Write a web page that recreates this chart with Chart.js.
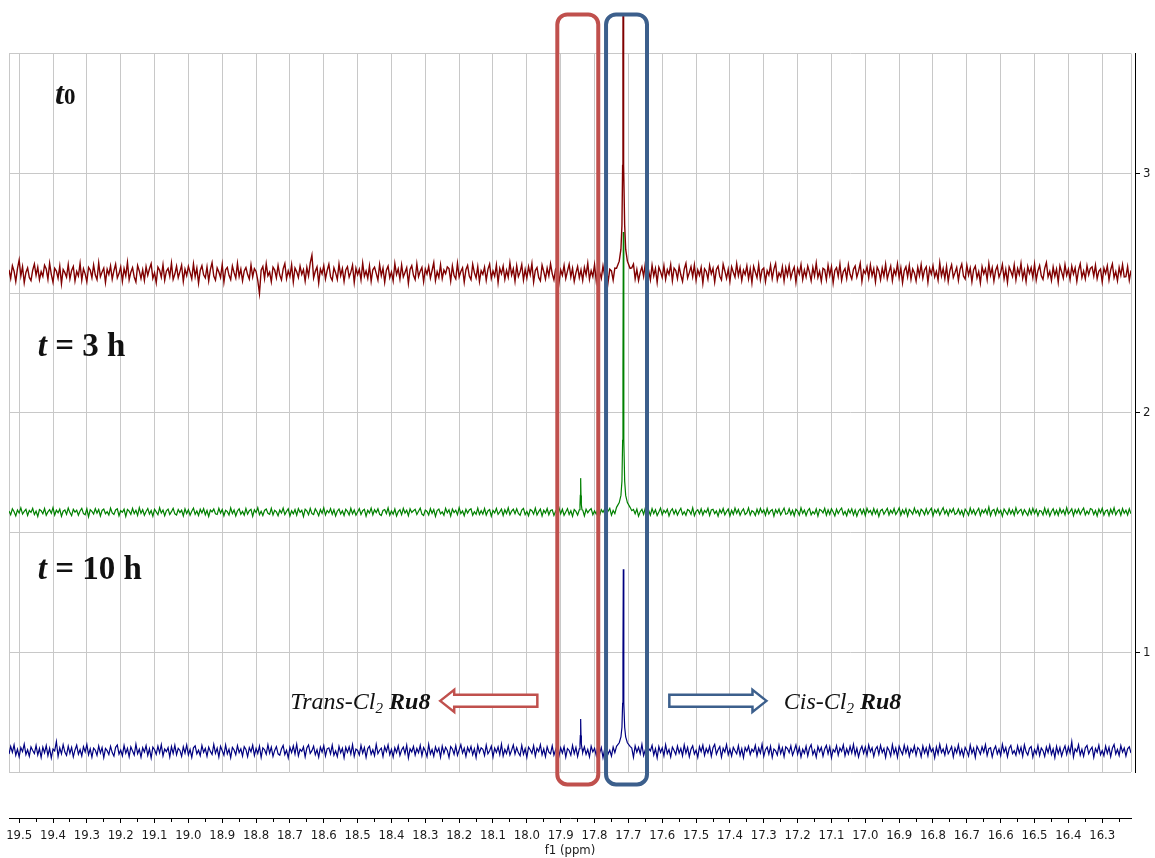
<!DOCTYPE html>
<html>
<head>
<meta charset="utf-8">
<title>Ru8 hydride region</title>
<script src="https://cdn.jsdelivr.net/npm/chart.js@4.4.1/dist/chart.umd.min.js"></script>
<style>
  html, body { margin: 0; padding: 0; background: #fff; }
  #wrap { width: 1155px; height: 858px; }
</style>
</head>
<body>
<div id="wrap"><canvas id="nmr" width="1155" height="858"></canvas></div>
<script>
// f1 axis, drawn from high to low ppm
const xTickLabels = ['19.5', '19.4', '19.3', '19.2', '19.1', '19.0', '18.9', '18.8', '18.7', '18.6', '18.5',
  '18.4', '18.3', '18.2', '18.1', '18.0', '17.9', '17.8', '17.7', '17.6', '17.5', '17.4', '17.3', '17.2',
  '17.1', '17.0', '16.9', '16.8', '16.7', '16.6', '16.5', '16.4', '16.3'];
const yTickLabels = ['1', '2', '3'];
const ppmMax = 19.53;
const ppmMin = 16.215;

// baseline of each stacked spectrum
const baseT0 = 2.583;
const base3h = 1.585;
const base10h = 0.587;

// baseline noise, evenly spaced from 19.53 to 16.215 ppm, in thousandths
const noiseT0 = [
  14, -22, 31, 8, -35, 19, 55, -12, 27, -40, 3, 22, -18, -31, 12, 38, -9, 25, -27, 6,
  -14, 33, 17, -26, 41, -5, -38, 20, 9, -21, 29, -44, 15, 2, -17, 36, -24, 11, 28, -33,
  7, -12, 40, -29, 18, -3, -36, 24, 13, -19, 34, -8, -27, 43, -15, 5, 21, -39, 16, -6,
  30, -25, 10, 37, -20, -2, 26, -34, 19, -11, 45, -28, 4, 23, -16, -37, 32, 9, -23, 14,
  -31, 27, -9, 18, 39, -22, 1, -40, 25, 12, -17, 35, -30, 8, 20, -13, 42, -26, -4, 29,
  -19, 6, 33, -35, 16, -10, 28, 3, -24, 38, -15, 21, -42, 11, 31, -7, -20, 26, -33, 15,
  44, -12, -29, 22, 5, -18, 36, -38, 14, 24, -9, -27, 30, 2, -21, 41, -14, 17, -32, 9,
  23, -6, -25, 34, -16, 19, 7, -30, -85, 12, 28, -22, 39, -11, 4, -36, 25, 13, -19, 32,
  -8, -28, 18, 40, -23, 10, -14, 35, -37, 21, 6, -18, 29, -5, 15, -33, 24, -12, 43, 75,
  -20, 8, 26, -41, 17, -3, 31, -24, 11, 37, -15, -30, 22, 1, -26, 38, -10, 19, -35, 13,
  27, -17, 4, 33, -39, 20, -7, 16, -28, 42, -13, 9, -22, 30, -34, 14, 25, -1, -29, 36,
  -11, 21, -38, 12, 29, -19, 5, -32, 40, -6, 18, -25, 34, -16, 3, 23, -43, 15, 31, -9,
  -27, 39, -14, 8, 24, -36, 17, -4, 28, -21, 11, 44, -31, 6, -18, 35, -23, 13, -2, 26,
  19, -33, 30, -10, -24, 41, -16, 7, 22, -38, 14, 32, -12, -27, 37, 2, -20, 27, -35, 10,
  -5, 25, -30, 16, 38, -22, 9, -13, 34, -40, 20, -3, 29, -26, 12, -17, 43, -8, 18, -34,
  31, -14, 4, 36, -29, 15, -21, 27, -6, 40, -37, 11, 23, -18, -32, 33, 6, -25, 21, -11,
  39, -2, -28, 17, 26, -41, 13, -9, 32, -23, 8, 37, -16, 20, -35, 1, 28, -19, 14, -30,
  24, -7, 42, -26, 10, -15, 35, -33, 18, 5, -22, 30, -12, 27, -38, 16, 9, -29, 21, -4,
  -17, 34, -27, 12, 29, -36, 7, -10, 22, 38, -24, 15, -31, 3, 26, -14, 40, -21, 9, -28,
  33, -12, 19, -39, 25, 6, -18, 31, -26, 14, -5, 36, -32, 21, 11, -23, 28, -8, -35, 17,
  41, -20, 2, 27, -15, 34, -30, 13, -9, 24, -42, 18, 7, -25, 32, -3, 20, -37, 15, 29,
  -13, -28, 37, 9, -22, 16, -34, 26, 4, -17, 39, -11, 23, -31, 12, -6, 30, -24, 18, -40,
  28, 5, -19, 35, -27, 14, 21, -36, 10, -8, 33, -23, 17, 40, -29, 1, -15, 26, -33, 22,
  -10, 31, -21, 7, 25, -38, 19, -4, 36, -26, 13, -16, 29, 3, -32, 24, -12, 42, -18, 8,
  -34, 20, 15, -27, 33, -9, 27, -41, 11, 23, -14, 38, -30, 6, 19, -22, 35, -5, -25, 16,
  30, -17, 8, 41, -35, 12, -2, 26, -20, 34, -11, 18, -37, 25, 9, -28, 21, -13, 37, -24,
  4, 29, -31, 14, -7, 39, -19, 22, -40, 10, 27, -15, 32, -26, 17, 1, -33, 24, -10, 36,
  -21, 13, 26, -38, 20, -4, 31, -16, 7, -29, 43, -12, 19, -23, 28, -34, 11, 35, -18, 2,
  24, -30, 16, 38, -12, -25, 33, -8, 21, -36, 14, 29, -20, 6, -41, 27, -3, 18, -27, 40,
  -9, 22, -33, 11, 30, -17, 3, 36, -24, 15, -39, 26, 8, -14, 34, -28, 19, -6, 41, -22,
  12, -35, 28, -1, 23, -19, 37, -29, 10, 32, -11, -26, 20, 44, -16, 7, -31, 25, -13, 17,
  -38, 30, 5, -21, 35, -9, 16, -27, 29, -4, 22, -34, 13, 39, -18, 9, -24, 31, -7, 20,
  26, -12, 33, -23, 8, 17, -37, 21, -2, 30, -28, 14, 38, -19, 6, -32, 24, -9, 35, -16,
  -15, 27, -30, 11
];
const noise3h = [
  5, -11, 14, 2, -16, 9, -4, 18, -8, 3, 12, -14, 7, -1, 16, -10, 4, -18, 11, 6,
  -7, 15, -13, 1, 10, -5, 19, -12, 8, -3, 13, -17, 4, 9, -9, 17, -2, -15, 12, 0,
  8, -13, 5, 16, -6, -11, 14, -19, 10, 3, -8, 15, -4, 11, -16, 7, 13, -7, 2, -12,
  17, -3, -10, 9, 14, -15, 6, -1, 12, -18, 11, 4, -9, 16, -6, 8, -14, 19, -5, 10,
  -13, 3, 15, -8, 7, -17, 12, 1, -11, 18, -4, 9, -15, 6, 13, -10, 2, 16, -7, -12,
  11, -2, 8, -16, 14, -6, 10, -13, 4, 17, -9, 5, -14, 12, -3, 15, -11, 7, -18, 9,
  1, 13, -7, -10, 16, -4, 11, -15, 8, 2, -12, 18, -6, 9, -16, 5, 14, -9, 3, -13,
  15, -8, 6, 12, -17, 10, -2, 19, -11, 4, -14, 7, 13, -5, -9, 16, -12, 8, 1, -15,
  9, -4, 17, -10, 3, 14, -16, 6, -7, 11, -13, 15, -1, 8, -18, 12, 5, -11, 16, -6,
  -10, 14, 2, -15, 11, -5, 18, -12, 7, -3, 15, -9, 10, -16, 4, 13, -8, 6, -14, 12,
  3, -12, 16, -7, 9, -13, 1, 15, -10, 6, 12, -17, 8, -4, 17, -11, 10, -2, 14, -9,
  -14, 7, 11, -6, 18, -13, 5, -9, 13, -16, 2, 10, -11, 16, -4, 8, -15, 14, -1, 6,
  12, -10, 4, 17, -8, -14, 9, 3, -12, 15, -5, 11, -18, 7, 13, -7, 1, -13, 16, -3,
  10, -16, 13, -2, 8, -11, 19, -6, 5, -15, 12, -4, 9, 14, -13, 2, -9, 17, -10, 6,
  -8, 15, -12, 5, 11, -17, 7, -3, 16, -9, 1, 13, -14, 10, -6, 18, -11, 4, 12, -7,
  14, -5, -13, 9, 16, -10, 3, -15, 11, 6, -8, 17, -12, 2, 13, -16, 8, -4, 15, -11,
  7, 10, -14, 4, -9, 18, -7, 12, -13, 1, 15, -10, 6, -17, 11, 3, -12, 14, -5, 9,
  -16, 12, -3, 8, 15, -11, 5, -8, 17, -14, 10, -1, 13, -9, 4, 16, -13, 7, -6, 11,
  -10, 3, 14, -12, 9, -5, 16, -15, 6, 11, -7, 13, -17, 2, 12, -9, 18, -4, 7, -13,
  15, -6, 10, -14, 1, 17, -11, 8, -3, 12, -16, 5, 14, -8, 9, -12, 4, 16, -10, 2,
  -13, 11, 6, -9, 18, -15, 3, 10, -7, 14, -12, 7, -2, 16, -14, 9, 12, -6, 5, -17,
  10, -4, 15, -11, 2, 13, -16, 8, -9, 17, -5, 11, -13, 4, 14, -10, -3, 18, -12, 6,
  1, -14, 12, -7, 16, -2, 9, -13, 15, -8, 5, 11, -17, 10, -4, 13, -11, 3, 17, -9,
  -6, 14, -10, 8, -15, 12, 4, -12, 18, -5, 9, -14, 6, 15, -11, 2, -8, 13, -16, 11,
  7, -3, 16, -13, 10, -9, 14, 1, -16, 12, -6, 8, 17, -10, 3, -15, 11, -4, 14, -12,
  9, -17, 5, 13, -8, 11, -14, 16, -2, 7, -11, 15, -7, 10, -18, 6, 12, -9, 4, 16,
  -12, 8, -5, 15, -10, 2, 18, -13, 9, -6, 14, -16, 11, 3, -9, 17, -4, 7, -14, 12,
  4, -11, 14, -8, 6, 16, -15, 10, -3, 13, -12, 5, 19, -7, 8, -14, 11, -1, 15, -10,
  -5, 13, -9, 7, -16, 12, 2, -13, 17, -6, 10, -11, 4, 16, -14, 9, -3, 12, -8, 21,
  -15, 6, 11, -12, 15, -4, 8, -17, 13, 1, -10, 14, -7, 9, -13, 18, -6, 5, 12, -11,
  10, -2, -14, 13, -9, 16, -6, 11, -15, 7, 4, -12, 17, -8, 12, -16, 3, 14, -10, 8,
  -13, 15, -4, 9, -11, 19, -7, 2, 14, -15, 10, -5, 13, -9, 6, 17, -12, 4, -8, 15,
  11, -10, 7, -16, 13, -3, 16, -12, 5, 9, -14, 12, -6, 18, -11, 3, 10, -13, 15, -5,
  8, -12, 14, -7
];
const noise10h = [
  -12, 20, -5, 26, -17, 8, -23, 15, -2, 29, -14, 6, -21, 18, 3, -10, 24, -16, 11, -26,
  17, -7, 23, -19, 12, -28, 9, 1, 40, -22, 14, -11, 27, -4, -18, 21, -9, 16, -24, 5,
  25, -13, 7, -20, 19, -3, 28, -15, 10, -25, 13, 4, -17, 22, -8, 15, -27, 11, 2, -14,
  20, -6, -21, 16, 26, -12, 5, -19, 24, -9, 12, -23, 18, 1, -16, 29, -11, 8, -25, 14,
  -4, 23, -18, 10, -28, 17, 6, -13, 21, -7, 27, -20, 9, -2, 15, -24, 19, -10, 25, -15,
  12, 3, -22, 18, -8, 26, -16, 7, -26, 14, 22, -11, 4, -19, 24, -5, 11, -21, 17, -1,
  -14, 28, -9, 13, -24, 20, 2, -17, 26, -12, 8, -27, 16, 5, -15, 23, -6, 10, -20, 19,
  7, -23, 15, -3, 25, -18, 11, -10, 21, -26, 14, 6, -13, 27, -8, 17, -22, 3, 19, -11,
  -17, 9, 24, -14, 4, -28, 16, -6, 22, -12, 29, -19, 8, -1, 18, -24, 13, 26, -9, 2,
  21, -15, 6, -25, 17, -4, 23, -20, 10, 14, -11, 25, -17, 1, -23, 20, -7, 12, -27, 16,
  -5, 18, -12, 27, -21, 9, 3, -16, 24, -8, 15, -26, 11, 21, -13, 6, -19, 28, -10, 4,
  13, -22, 19, -2, 26, -15, 8, -24, 14, -6, 22, -18, 5, 17, -11, 25, -28, 10, -3, 20,
  -16, 11, -7, 24, -19, 15, 1, -23, 28, -12, 7, -21, 18, -4, 13, -25, 21, -9, 16, 3,
  -26, 19, 9, -13, 23, -17, 5, 27, -8, 12, -22, 16, -3, 20, -15, 10, -27, 24, -6, 14,
  8, -18, 25, -11, 2, 21, -24, 13, -5, 18, -14, 29, -20, 7, -10, 22, -16, 4, 26, -12,
  15, -7, -19, 24, -13, 10, -26, 17, 6, -9, 23, -21, 12, -2, 27, -15, 9, -23, 18, -4,
  -11, 22, -16, 5, 26, -20, 14, -8, 19, -25, 11, 3, -17, 24, -10, 16, -22, 8, 30, -6,
  18, -13, 7, -24, 21, -3, 12, -18, 26, -9, 15, -27, 10, 20, -12, 4, -21, 17, -6, 14,
  -19, 9, 25, -14, 2, -23, 18, -7, 13, -26, 22, -4, 16, -11, 28, -18, 6, -22, 11, 1,
  24, -16, 10, -28, 19, -5, 14, -20, 27, -10, 7, -24, 17, 3, -14, 21, -8, 12, -19, 26,
  -9, 16, -23, 8, 22, -12, 4, -26, 19, -2, 25, -17, 11, -7, 20, -21, 14, 28, -13, 6,
  19, -25, 12, -4, 27, -15, 9, -20, 16, 2, -11, 23, -18, 10, -27, 15, -1, 21, -14, 8,
  -3, 24, -19, 13, -8, 29, -22, 6, 17, -12, 20, -26, 9, 1, -16, 25, -10, 14, -23, 18,
  11, -6, 22, -17, 3, 26, -13, 15, -24, 8, -9, 21, -20, 12, 27, -14, 5, -25, 19, -2,
  16, -21, 9, 24, -11, 18, -27, 7, -4, 23, -16, 13, -1, 26, -19, 10, -12, 20, -8, 28,
  -15, 12, -24, 5, 21, -9, 17, -18, 26, -3, 14, -22, 8, 19, -13, 24, -6, 11, -26, 16,
  4, -20, 27, -10, 13, -25, 20, 2, -14, 25, -7, 18, -21, 10, -5, 22, -17, 15, 6, -23,
  21, -8, 14, -19, 24, -2, 11, -27, 17, -12, 28, -6, 9, -16, 23, -11, 3, 19, -24, 13,
  -7, 26, -15, 8, -22, 16, 1, -20, 25, -9, 12, -26, 20, 5, -13, 18, -4, 27, -18, 10,
  14, -24, 6, 21, -12, 9, -19, 28, -5, 15, -23, 11, 24, -10, 2, -17, 22, -8, 16, -21,
  26, -3, -16, 12, 19, -25, 7, -11, 23, -18, 13, 2, -22, 17, -6, 25, -14, 9, -27, 20,
  -10, 15, -20, 4, 22, -13, 18, -7, 40, -24, 10, -2, 27, -16, 8, -21, 14, 24, -11, 6,
  17, -26, 11, -5, 25, -15, 3, -19, 21, -9, 16, -23, 12, 28, -12, 7, -18, 23, -4, 13,
  -20, 10, 18, -8
];

// hydride peaks: [ppm, height above baseline]
const peakT0Cis = [[17.735, 0.02], [17.727, 0.05], [17.722, 0.1], [17.719, 0.2], [17.717, 0.45],
  [17.716, 0.9], [17.7155, 1.4], [17.715, 2.0], [17.7145, 1.4], [17.714, 0.9], [17.713, 0.45],
  [17.711, 0.2], [17.708, 0.1], [17.703, 0.05], [17.695, 0.02]];
const peak3hTrans = [[17.845, 0.01], [17.843, 0.03], [17.842, 0.07], [17.841, 0.142], [17.840, 0.07],
  [17.839, 0.03], [17.837, 0.01]];
const peak3hCis = [[17.735, 0.02], [17.727, 0.04], [17.722, 0.07], [17.719, 0.13], [17.717, 0.3],
  [17.716, 0.6], [17.715, 1.17], [17.714, 0.6], [17.713, 0.3], [17.711, 0.13], [17.708, 0.07],
  [17.703, 0.04], [17.695, 0.02]];
const peak10hTrans = [[17.845, 0.01], [17.843, 0.03], [17.842, 0.065], [17.841, 0.134], [17.840, 0.065],
  [17.839, 0.03], [17.837, 0.01]];
const peak10hCis = [[17.735, 0.02], [17.727, 0.035], [17.722, 0.06], [17.719, 0.1], [17.717, 0.2],
  [17.716, 0.4], [17.715, 0.76], [17.714, 0.4], [17.713, 0.2], [17.711, 0.1], [17.708, 0.06],
  [17.703, 0.035], [17.695, 0.02]];

// noise readings inside a peak window are replaced by the peak itself
function buildTrace(base, noise, peaks) {
  const step = (ppmMax - ppmMin) / (noise.length - 1);
  const pts = [];
  noise.forEach((v, i) => {
    const ppm = ppmMax - i * step;
    if (peaks.some(p => ppm <= p[0][0] && ppm >= p[p.length - 1][0])) return;
    pts.push({ x: ppm, y: base + v / 1000 });
  });
  peaks.forEach(p => p.forEach(([ppm, h]) => pts.push({ x: ppm, y: base + h })));
  return pts.sort((a, b) => b.x - a.x);
}

const RED = '#c0504d';
const BLUE = '#3c5f8c';
const SERIF = '"Liberation Serif", "DejaVu Serif", serif';

function roundBox(ctx, x1, y1, x2, y2, r, color) {
  ctx.beginPath();
  ctx.moveTo(x1 + r, y1);
  ctx.arcTo(x2, y1, x2, y2, r);
  ctx.arcTo(x2, y2, x1, y2, r);
  ctx.arcTo(x1, y2, x1, y1, r);
  ctx.arcTo(x1, y1, x2, y1, r);
  ctx.closePath();
  ctx.lineWidth = 4;
  ctx.strokeStyle = color;
  ctx.stroke();
}

// hollow block arrow, tip at xt, tail at xe
function blockArrow(ctx, xt, xe, yc, color) {
  const dir = xe > xt ? 1 : -1;
  const xh = xt + dir * 14;
  ctx.beginPath();
  ctx.moveTo(xt, yc);
  ctx.lineTo(xh, yc - 11);
  ctx.lineTo(xh, yc - 6);
  ctx.lineTo(xe, yc - 6);
  ctx.lineTo(xe, yc + 6);
  ctx.lineTo(xh, yc + 6);
  ctx.lineTo(xh, yc + 11);
  ctx.closePath();
  ctx.fillStyle = '#fff';
  ctx.fill();
  ctx.lineWidth = 2.5;
  ctx.lineJoin = 'miter';
  ctx.strokeStyle = color;
  ctx.stroke();
}

// text made of runs with their own font and baseline shift
function richText(ctx, runs, x, y, align) {
  let w = 0;
  runs.forEach(r => { ctx.font = r.font; w += ctx.measureText(r.text).width; });
  let cx = align === 'right' ? x - w : x;
  ctx.fillStyle = '#111';
  ctx.textBaseline = 'alphabetic';
  ctx.textAlign = 'left';
  runs.forEach(r => {
    ctx.font = r.font;
    ctx.fillText(r.text, cx, y + (r.dy || 0));
    cx += ctx.measureText(r.text).width;
  });
}

const overlay = {
  id: 'overlay',
  afterDraw(chart) {
    const { ctx, scales: { x, y } } = chart;
    const px = v => x.getPixelForValue(v);
    const py = v => y.getPixelForValue(v);
    ctx.save();

    // trans and cis hydride windows
    roundBox(ctx, px(17.910), py(3.663), px(17.789), py(0.448), 10, RED);
    roundBox(ctx, px(17.766), py(3.663), px(17.645), py(0.448), 10, BLUE);

    blockArrow(ctx, px(18.256), px(17.969), py(0.797), RED);
    blockArrow(ctx, px(17.292), px(17.579), py(0.797), BLUE);

    richText(ctx, [
      { text: 'Trans-Cl', font: `italic 24px ${SERIF}` },
      { text: '2', font: `italic 15px ${SERIF}`, dy: 4 },
      { text: ' ', font: `italic 24px ${SERIF}` },
      { text: 'Ru8', font: `italic bold 24px ${SERIF}` }
    ], px(18.285), py(0.763), 'right');
    richText(ctx, [
      { text: 'Cis-Cl', font: `italic 24px ${SERIF}` },
      { text: '2', font: `italic 15px ${SERIF}`, dy: 4 },
      { text: ' ', font: `italic 24px ${SERIF}` },
      { text: 'Ru8', font: `italic bold 24px ${SERIF}` }
    ], px(17.241), py(0.763), 'left');

    // time stamps of the three spectra
    richText(ctx, [
      { text: 't', font: `italic bold 32px ${SERIF}` },
      { text: '0', font: `bold 23px ${SERIF}` }
    ], px(19.394), py(3.288), 'left');
    richText(ctx, [
      { text: 't', font: `italic bold 33px ${SERIF}` },
      { text: ' = 3 h', font: `bold 33px ${SERIF}` }
    ], px(19.445), py(2.238), 'left');
    richText(ctx, [
      { text: 't', font: `italic bold 33px ${SERIF}` },
      { text: ' = 10 h', font: `bold 33px ${SERIF}` }
    ], px(19.445), py(1.307), 'left');

    ctx.restore();
  }
};

Chart.defaults.font.family = '"DejaVu Sans Condensed", "DejaVu Sans", sans-serif';
Chart.defaults.font.size = 13;
Chart.defaults.color = '#1a1a1a';

const GRID = '#c8c8c8';

new Chart(document.getElementById('nmr'), {
  type: 'line',
  data: {
    datasets: [
      {
        label: 't0',
        data: buildTrace(baseT0, noiseT0, [peakT0Cis]),
        borderColor: '#800000',
        borderWidth: 1.4,
        clip: { left: 0, top: 40, right: 0, bottom: 0 }
      },
      {
        label: 't = 3 h',
        data: buildTrace(base3h, noise3h, [peak3hTrans, peak3hCis]),
        borderColor: '#008000',
        borderWidth: 1.2
      },
      {
        label: 't = 10 h',
        data: buildTrace(base10h, noise10h, [peak10hTrans, peak10hCis]),
        borderColor: '#000080',
        borderWidth: 1.2
      }
    ]
  },
  options: {
    responsive: false,
    animation: false,
    datasets: { line: { pointRadius: 0, tension: 0 } },
    layout: { padding: { left: 9, top: 53.5, right: 0, bottom: 0 } },
    plugins: { legend: { display: false }, tooltip: { enabled: false } },
    scales: {
      // grid only, with the frame lines at both ends
      x: {
        type: 'linear', reverse: true, min: ppmMin, max: ppmMax, position: 'bottom', weight: 0,
        ticks: { display: false },
        grid: { color: GRID, drawTicks: false },
        border: { display: false },
        afterBuildTicks: s => {
          s.ticks = [ppmMax, ...xTickLabels.map(Number), ppmMin].map(v => ({ value: v }));
        },
        afterFit: s => { s.height = 46; }
      },
      // f1 axis below the frame
      x2: {
        type: 'linear', reverse: true, min: ppmMin, max: ppmMax, position: 'bottom', weight: 1,
        grid: {
          drawOnChartArea: false, tickLength: 5, tickColor: '#000',
          tickBorderDash: c => (c.tick && c.tick.major ? [] : [3, 20])
        },
        border: { color: '#000' },
        ticks: {
          autoSkip: false, maxRotation: 0, minRotation: 0, padding: 5,
          callback: (v, i, t) => (t[i].major ? v.toFixed(1) : '')
        },
        title: { display: true, text: 'f1 (ppm)', padding: { top: 0, bottom: 0 } },
        afterBuildTicks: s => {
          const major = xTickLabels.map(Number);
          const minor = major.map(v => +(v - 0.05).toFixed(2)).filter(v => v >= ppmMin);
          s.ticks = major.map(v => ({ value: v, major: true }))
            .concat(minor.map(v => ({ value: v, major: false })))
            .sort((a, b) => a.value - b.value);
        },
        afterFit: s => { s.height = 40; }
      },
      y: {
        type: 'linear', min: 0.5, max: 3.5, position: 'right', weight: 0,
        ticks: { display: false, stepSize: 0.5 },
        grid: { color: GRID, drawTicks: false },
        border: { display: false },
        afterFit: s => { s.width = 4; }
      },
      y2: {
        type: 'linear', min: 0.5, max: 3.5, position: 'right', weight: 1,
        grid: { drawOnChartArea: false, tickLength: 5, tickColor: '#000' },
        border: { color: '#000' },
        ticks: { padding: 3, callback: v => String(v) },
        afterBuildTicks: s => { s.ticks = yTickLabels.map(v => ({ value: Number(v) })); },
        afterFit: s => { s.width = 20; }
      }
    }
  },
  plugins: [overlay]
});
</script>
</body>
</html>
